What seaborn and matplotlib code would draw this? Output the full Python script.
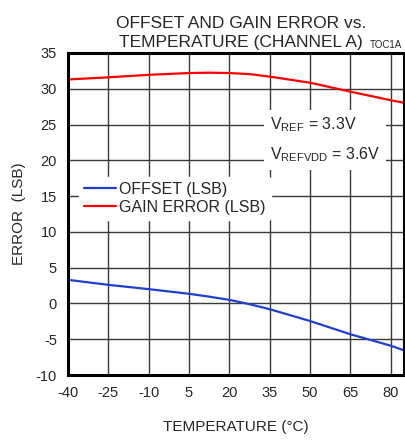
import matplotlib
matplotlib.use("Agg")
import matplotlib.pyplot as plt
import seaborn as sns
import pandas as pd
from matplotlib.lines import Line2D

temperature = [-40, -25, -10, 5, 12.5, 20, 27.5, 35, 50, 65, 80, 85]
offset_lsb = [3.3, 2.6, 2.0, 1.35, 0.95, 0.5, -0.1, -0.8, -2.45, -4.3, -5.9, -6.55]
gain_error_lsb = [31.3, 31.6, 31.95, 32.2, 32.25, 32.2, 32.05, 31.7, 30.85, 29.6, 28.4, 28.05]
x_ticks = [-40, -25, -10, 5, 20, 35, 50, 65, 80]
y_ticks = [-10, -5, 0, 5, 10, 15, 20, 25, 30, 35]

sns.set_style("white")
plt.rcParams["font.family"] = ["Liberation Sans", "DejaVu Sans"]
plt.rcParams["mathtext.fontset"] = "custom"
plt.rcParams["mathtext.rm"] = "Liberation Sans"

df = pd.DataFrame({
    "T": temperature * 2,
    "v": offset_lsb + gain_error_lsb,
    "s": ["OFFSET (LSB)"] * len(temperature) + ["GAIN ERROR (LSB)"] * len(temperature),
})

fig = plt.figure(figsize=(4.06, 4.40), dpi=100)
ax = fig.add_axes([68 / 406, 1 - 375 / 440, (404 - 68) / 406, (375 - 53) / 440])
sns.lineplot(data=df, x="T", y="v", hue="s",
             palette={"OFFSET (LSB)": "#1f3fd0", "GAIN ERROR (LSB)": "#ff0000"},
             linewidth=1.6, ax=ax, legend=False)
ax.set_xlim(-40, 85)
ax.set_ylim(-10, 35)
ax.set_xticks(x_ticks)
ax.set_yticks(y_ticks)
ax.set_xticklabels([str(t) for t in x_ticks], fontsize=10.5)
ax.set_yticklabels([str(t) for t in y_ticks], fontsize=10.5)
ax.tick_params(axis="both", length=0, pad=8)
ax.grid(True, color="#3a3a3a", linewidth=1.0)
ax.set_axisbelow(True)
for s in ax.spines.values():
    s.set_linewidth(2.2)
    s.set_color("black")
ax.set_xlabel("TEMPERATURE (°C)", fontsize=11, labelpad=14)
ax.set_ylabel("ERROR  (LSB)", fontsize=11, labelpad=7)

handles = [Line2D([], [], color="#1f3fd0", lw=1.6), Line2D([], [], color="#ff0000", lw=1.6)]
leg = ax.legend(handles, ["OFFSET (LSB)", "GAIN ERROR (LSB)"], loc="upper left",
                bbox_to_anchor=(0.01, 0.64), frameon=True, fontsize=11.5,
                handlelength=2.0, handletextpad=0.2, labelspacing=0.2, borderpad=0.3)
leg.get_frame().set_edgecolor("white")
leg.get_frame().set_facecolor("white")
leg.get_frame().set_alpha(1)

ax.text(0.6, 0.73, "V$_{\\mathrm{REF}}$ = 3.3V\n\nV$_{\\mathrm{REFVDD}}$ = 3.6V", transform=ax.transAxes,
        fontsize=11.5, va="center", ha="left", linespacing=0.85,
        bbox=dict(facecolor="white", edgecolor="none", pad=4))

fig.text(241 / 406, 1 - 33 / 440, "OFFSET AND GAIN ERROR vs.\nTEMPERATURE (CHANNEL A)",
         ha="center", va="center", fontsize=12.5, linespacing=1.3)
fig.text(386 / 406, 1 - 45 / 440, "TOC1A", ha="center", va="center", fontsize=7)

fig.savefig("out.png", dpi=100)
